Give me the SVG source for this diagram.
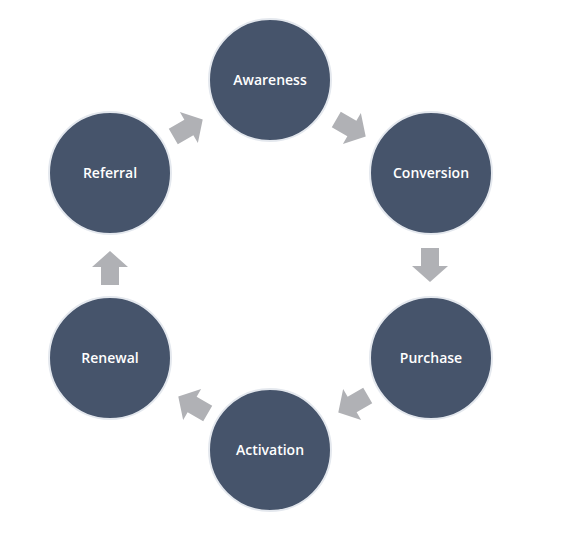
<svg xmlns="http://www.w3.org/2000/svg" width="564" height="544" viewBox="0 0 564 544">
<style>
.n{fill:#46546b;stroke:#e4e8ee;stroke-width:2}
.t{fill:#fff;font-family:"Open Sans","Liberation Sans",sans-serif;font-size:14px;font-weight:600;text-anchor:middle}
.a{fill:#b0b1b5}
</style>
<defs><path id="ar" d="M-17,-9 H1 V-18 L17,0 L1,18 V9 H-17 Z"/></defs>
<rect width="564" height="544" fill="#fff"/>
<g id="connectors">
<use href="#ar" class="a" transform="translate(188,128) rotate(-30)"/>
<use href="#ar" class="a" transform="translate(351,128) rotate(30)"/>
<use href="#ar" class="a" transform="translate(430,265) rotate(90)"/>
<use href="#ar" class="a" transform="translate(353,404) rotate(150)"/>
<use href="#ar" class="a" transform="translate(193,405) rotate(210)"/>
<use href="#ar" class="a" transform="translate(110,268) rotate(270)"/>
</g>
<g id="awareness"><circle class="n" cx="270" cy="80" r="61"/><text class="t" x="270" y="85">Awareness</text></g>
<g id="conversion"><circle class="n" cx="431" cy="173" r="61"/><text class="t" x="431" y="178">Conversion</text></g>
<g id="purchase"><circle class="n" cx="431" cy="358" r="61"/><text class="t" x="431" y="363">Purchase</text></g>
<g id="activation"><circle class="n" cx="270" cy="450" r="61"/><text class="t" x="270" y="455">Activation</text></g>
<g id="renewal"><circle class="n" cx="110" cy="358" r="61"/><text class="t" x="110" y="363">Renewal</text></g>
<g id="referral"><circle class="n" cx="110" cy="173" r="61"/><text class="t" x="110" y="178">Referral</text></g>
</svg>
